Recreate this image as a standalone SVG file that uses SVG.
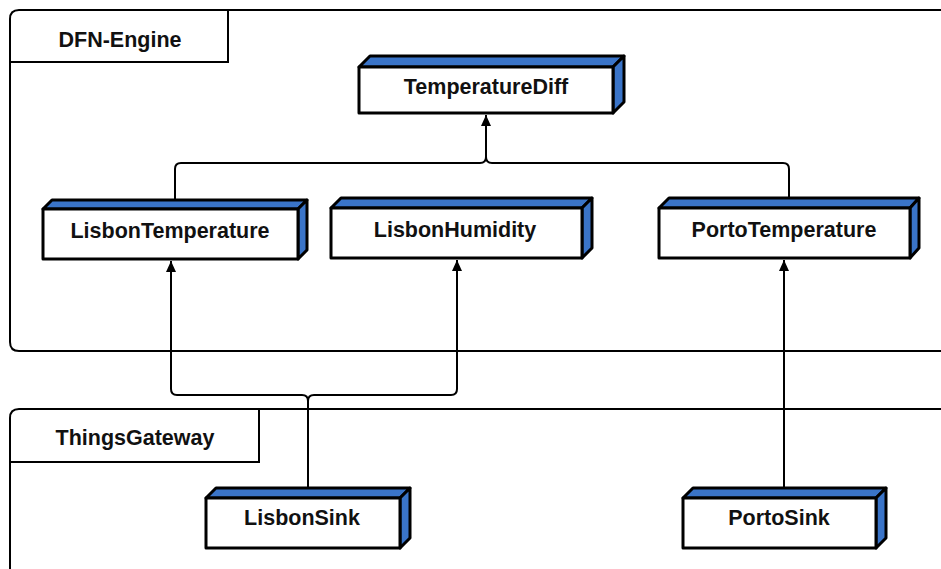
<svg xmlns="http://www.w3.org/2000/svg" width="941" height="569" viewBox="0 0 941 569">
  <defs>
    <marker id="arrow" markerUnits="userSpaceOnUse" markerWidth="12" markerHeight="12" refX="11" refY="5" orient="auto">
      <path d="M0,0 L11,5 L0,10 Z" fill="#000"/>
    </marker>
    <style>
      .frame { fill: none; stroke: #000; stroke-width: 2; }
      .face { fill: #fff; stroke: #000; stroke-width: 3; stroke-linejoin: round; }
      .side { fill: #3a74c8; stroke: #000; stroke-width: 3; stroke-linejoin: round; }
      .conn { fill: none; stroke: #000; stroke-width: 2; }
      .label { font-family: "Liberation Sans", Arial, sans-serif; font-weight: bold; font-size: 21.5px; fill: #111; text-anchor: middle; }
    </style>
  </defs>
  <rect width="941" height="569" fill="#fff"/>

  <!-- packages -->
  <g id="dfn-engine">
    <path class="frame" d="M941,10 H19 Q10,10 10,19 V342 Q10,351 19,351 H941"/>
    <path class="frame" d="M10,62 H228 V10"/>
    <text class="label" x="120" y="47">DFN-Engine</text>
  </g>
  <g id="things-gateway">
    <path class="frame" d="M941,409 H19 Q10,409 10,418 V569"/>
    <path class="frame" d="M10,462 H259 V409"/>
    <text class="label" x="135" y="445">ThingsGateway</text>
  </g>

  <!-- connectors -->
  <g id="connectors">
    <path class="conn" d="M175,200 V169 Q175,163 181,163 H480 Q486,163 486,157 V115" marker-end="url(#arrow)"/>
    <path class="conn" d="M789,198 V169 Q789,163 783,163 H492 Q486,163 486,157"/>
    <path class="conn" d="M308,488 V401 Q308,395 302,395 H177 Q171,395 171,389 V261" marker-end="url(#arrow)"/>
    <path class="conn" d="M308,401 Q308,395 314,395 H451 Q457,395 457,389 V260" marker-end="url(#arrow)"/>
    <path class="conn" d="M784,488 V260" marker-end="url(#arrow)"/>
  </g>

  <!-- nodes -->
  <g id="TemperatureDiff">
    <polygon class="side" points="359,67 370,56 624,56 613,67"/>
    <polygon class="side" points="613,67 624,56 624,102 613,113"/>
    <rect class="face" x="359" y="67" width="254" height="46"/>
    <text class="label" x="486" y="94">TemperatureDiff</text>
  </g>
  <g id="LisbonTemperature">
    <polygon class="side" points="43,209 52,200 307,200 298,209"/>
    <polygon class="side" points="298,209 307,200 307,250 298,259"/>
    <rect class="face" x="43" y="209" width="255" height="50"/>
    <text class="label" x="170" y="238">LisbonTemperature</text>
  </g>
  <g id="LisbonHumidity">
    <polygon class="side" points="331,208 341,198 592,198 582,208"/>
    <polygon class="side" points="582,208 592,198 592,248 582,258"/>
    <rect class="face" x="331" y="208" width="251" height="50"/>
    <text class="label" x="455" y="237">LisbonHumidity</text>
  </g>
  <g id="PortoTemperature">
    <polygon class="side" points="659,208 669,198 919,198 910,208"/>
    <polygon class="side" points="910,208 919,198 919,248 910,258"/>
    <rect class="face" x="659" y="208" width="251" height="50"/>
    <text class="label" x="784" y="237">PortoTemperature</text>
  </g>
  <g id="LisbonSink">
    <polygon class="side" points="206,498 216,488 410,488 400,498"/>
    <polygon class="side" points="400,498 410,488 410,538 400,548"/>
    <rect class="face" x="206" y="498" width="194" height="50"/>
    <text class="label" x="302" y="525">LisbonSink</text>
  </g>
  <g id="PortoSink">
    <polygon class="side" points="683,498 693,488 886,488 876,498"/>
    <polygon class="side" points="876,498 886,488 886,538 876,548"/>
    <rect class="face" x="683" y="498" width="193" height="50"/>
    <text class="label" x="779" y="525">PortoSink</text>
  </g>
</svg>
